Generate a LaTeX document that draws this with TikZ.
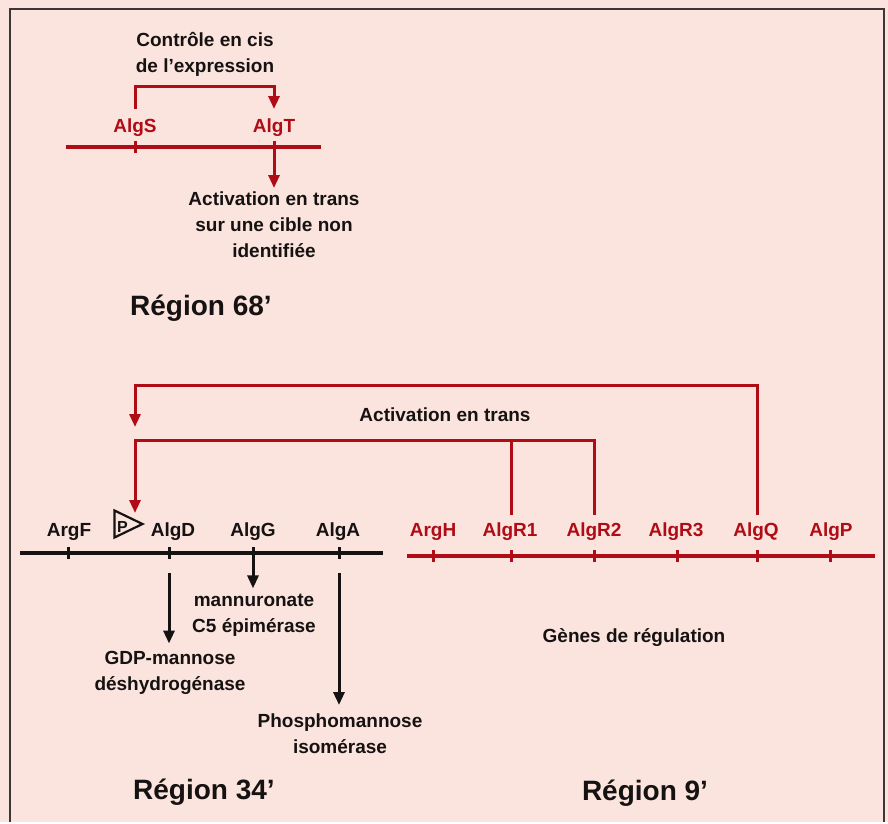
\documentclass[tikz,border=0pt]{standalone}
\usepackage{fontspec}
\setmainfont{Liberation Sans}
\usetikzlibrary{arrows.meta}
\definecolor{bg}{RGB}{251,228,222}
\definecolor{dred}{RGB}{176,12,22}
\definecolor{ink}{RGB}{22,18,18}
\definecolor{frame}{RGB}{60,55,55}
\begin{document}
\begin{tikzpicture}[x=1pt,y=-1pt,
  lbl/.style={font=\fontsize{19}{26}\selectfont\bfseries, inner sep=0pt, anchor=base, text=ink},
  rlbl/.style={lbl, text=dred},
  txt/.style={lbl, align=center},
  title/.style={font=\fontsize{28}{30}\selectfont\bfseries, inner sep=0pt, anchor=base, text=ink},
  rline/.style={draw=dred, line width=3pt},
  bline/.style={draw=ink, line width=3pt},
  rchrom/.style={draw=dred, line width=3.5pt},
  bchrom/.style={draw=ink, line width=3.5pt},
  rtick/.style={draw=dred, line width=3pt},
  btick/.style={draw=ink, line width=3pt},
  rarr/.style={-{Triangle[length=13pt,width=11pt]}},
  barr/.style={-{Triangle[length=13pt,width=11pt]}},
]
\path[fill=bg] (0,0) rectangle (888,822);
\draw[frame, line width=2.5pt] (10,822) -- (10,9) -- (884,9) -- (884,822);

% ---------- Region 68'
\node[txt] (cis) at (205,73) {Contrôle en cis\\de l'expression};
\node[rlbl] (AlgS) at (135,133) {AlgS};
\node[rlbl] (AlgT) at (274,133) {AlgT};
\coordinate (l1a) at (66,147);
\coordinate (l1b) at (321,147);
\coordinate (tS) at (135,147);
\coordinate (tT) at (274,147);
\draw[rchrom] (l1a) -- (l1b);
\draw[rtick] ([yshift=6pt]tS) -- ([yshift=-6pt]tS);
\draw[rtick] ([yshift=6pt]tT) -- ([yshift=-6pt]tT);
\draw[rline, rarr] ([yshift=10pt]AlgS.north) -- ++(0,-23) -| ([yshift=10pt]AlgT.north);
\node[txt] (act1) at (274,258) {Activation en trans\\sur une cible non\\identifiée};
\draw[rline, rarr] ([yshift=-6pt]tT) -- ([yshift=4pt]act1.north -| tT);
\node[title] (r68) at (201,315) {Région 68'};

% ---------- Regions 34' and 9'
\node[lbl] (ArgF) at (69,536) {ArgF};
\node[lbl] (AlgD) at (173,536) {AlgD};
\node[lbl] (AlgG) at (253,536) {AlgG};
\node[lbl] (AlgA) at (338,536) {AlgA};
\node[rlbl] (ArgH) at (433,536) {ArgH};
\node[rlbl] (AlgR1) at (510,536) {AlgR1};
\node[rlbl] (AlgR2) at (594,536) {AlgR2};
\node[rlbl] (AlgR3) at (676,536) {AlgR3};
\node[rlbl] (AlgQ) at (756,536) {AlgQ};
\node[rlbl] (AlgP) at (831,536) {AlgP};

% promoter
\draw[ink, line width=2.2pt, line join=miter] (114.5,510.5) -- (142.5,524) -- (114.5,537.5) -- cycle;
\node[font=\fontsize{16}{16}\selectfont\bfseries, text=ink, inner sep=0pt] (P) at (122.5,526.5) {P};

% chromosome lines
\coordinate (l2a) at (20,553);
\coordinate (l2b) at (383,553);
\draw[bchrom] (l2a) -- (l2b);
\foreach \x/\n in {68/tF,169/tD,253/tG,339/tA}{
  \coordinate (\n) at (\x,553);
  \draw[btick] ([yshift=6pt]\n) -- ([yshift=-6pt]\n);
}
\coordinate (l3a) at (407,556);
\coordinate (l3b) at (875,556);
\draw[rchrom] (l3a) -- (l3b);
\foreach \x/\n in {433/tH,511/tR1,594/tR2,677/tR3,757/tQ,830/tP}{
  \coordinate (\n) at (\x,556);
  \draw[rtick] ([yshift=6pt]\n) -- ([yshift=-6pt]\n);
}

% trans activation brackets
\coordinate (outTip) at (135,427);
\coordinate (inTip) at (135,513);
\draw[rline, rarr] ([yshift=7pt]AlgQ.north -| tQ) -- ++(0,-130) -| (outTip);
\draw[rline, rarr] ([yshift=7pt]AlgR2.north -| tR2) -- ++(0,-75) -| (inTip);
\draw[rline] ([yshift=7pt]AlgR1.north -| tR1) -- ++(0,-75);
\node[lbl] (act2) at (445,421) {Activation en trans};

% products
\node[txt] (epi) at (254,632) {mannuronate\\C5 épimérase};
\node[txt] (gdp) at (170,690) {GDP-mannose\\déshydrogénase};
\node[txt] (pmi) at (340,753) {Phosphomannose\\isomérase};
\draw[bline, barr] ([yshift=-20pt]tD) -- ([yshift=7pt]gdp.north -| tD);
\draw[bline, barr] ([yshift=-6pt]tG) -- ([yshift=5pt]epi.north -| tG);
\draw[bline, barr] ([yshift=-20pt]tA) -- ([yshift=8pt]pmi.north -| tA);

\node[lbl] (genes) at (634,642) {Gènes de régulation};
\node[title] (r34) at (204,799) {Région 34'};
\node[title] (r9) at (645,800) {Région 9'};
\end{tikzpicture}
\end{document}
